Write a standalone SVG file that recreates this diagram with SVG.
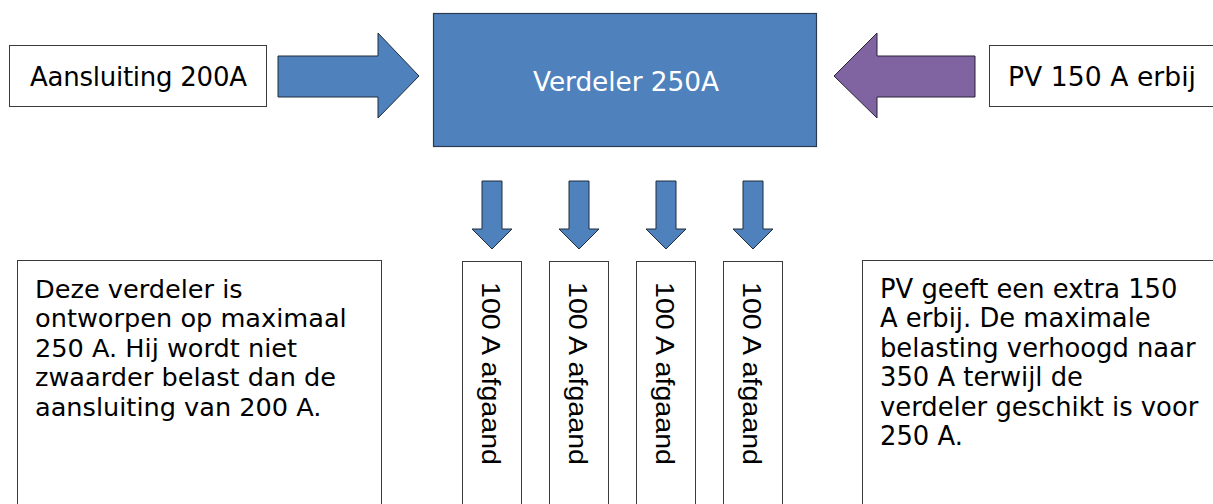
<svg xmlns="http://www.w3.org/2000/svg" width="1213" height="504" viewBox="0 0 1213 504">
<style>
.box{fill:#fff;stroke:#3a3a3a;stroke-width:1}
.hub{fill:#4F81BD;stroke:#2a3b52;stroke-width:1.2}
.arr{fill:#4F81BD;stroke:#1f2d3d;stroke-width:1}
.arrp{fill:#8064A2;stroke:#2a2238;stroke-width:1}
.t{font-family:"DejaVu Sans","Open Sans",sans-serif;fill:#000}
.tw{font-family:"DejaVu Sans","Open Sans",sans-serif;fill:#fff}
.v{font-family:"Liberation Sans",Arial,sans-serif;fill:#000;font-size:26px}
</style>
<rect width="1213" height="504" fill="#fff"/>
<g id="connectors">
<polygon class="arr" points="278,56 378,56 378,33 419,76 378,118 378,97 278,97"/>
<polygon class="arrp" points="975,56 877,56 877,33 834,76 877,118 877,97 975,97"/>
<polygon class="arr" points="482,181 502,181 502,229 512,229 492,249 472,229 482,229"/>
<polygon class="arr" points="569,181 589,181 589,229 599,229 579,249 559,229 569,229"/>
<polygon class="arr" points="656,181 676,181 676,229 686,229 666,249 646,229 656,229"/>
<polygon class="arr" points="743,181 763,181 763,229 773,229 753,249 733,229 743,229"/>
</g>
<g id="aansluiting">
<rect class="box" x="9.5" y="45.5" width="257" height="61"/>
<text class="t" x="30" y="86" font-size="26" textLength="217" lengthAdjust="spacing">Aansluiting 200A</text>
</g>
<g id="verdeler">
<rect class="hub" x="433.5" y="13.5" width="383" height="133"/>
<text class="tw" x="533" y="91" font-size="26.4" textLength="186" lengthAdjust="spacing">Verdeler 250A</text>
</g>
<g id="pv">
<rect class="box" x="989.5" y="45.5" width="240" height="61"/>
<text class="t" x="1008" y="86" font-size="26.6" textLength="188" lengthAdjust="spacing">PV 150 A erbij</text>
</g>
<g id="out1">
<rect class="box" x="462.5" y="261.5" width="59" height="260"/>
<text class="v" transform="translate(482,282) rotate(90)" textLength="183" lengthAdjust="spacingAndGlyphs">100 A afgaand</text>
</g>
<g id="out2">
<rect class="box" x="549.5" y="261.5" width="59" height="260"/>
<text class="v" transform="translate(569,282) rotate(90)" textLength="183" lengthAdjust="spacingAndGlyphs">100 A afgaand</text>
</g>
<g id="out3">
<rect class="box" x="636.5" y="261.5" width="59" height="260"/>
<text class="v" transform="translate(656,282) rotate(90)" textLength="183" lengthAdjust="spacingAndGlyphs">100 A afgaand</text>
</g>
<g id="out4">
<rect class="box" x="723.5" y="261.5" width="59" height="260"/>
<text class="v" transform="translate(743,282) rotate(90)" textLength="183" lengthAdjust="spacingAndGlyphs">100 A afgaand</text>
</g>
<g id="note-left">
<rect class="box" x="17.5" y="260.5" width="364" height="260"/>
<text class="t" font-size="25.6">
<tspan x="35" y="297.5">Deze verdeler is</tspan>
<tspan x="35" y="327">ontworpen op maximaal</tspan>
<tspan x="35" y="356.5">250 A. Hij wordt niet</tspan>
<tspan x="35" y="386">zwaarder belast dan de</tspan>
<tspan x="35" y="415.5">aansluiting van 200 A.</tspan>
</text>
</g>
<g id="note-right">
<rect class="box" x="862.5" y="260.5" width="370" height="260"/>
<text class="t" font-size="25.8">
<tspan x="880" y="297.5">PV geeft een extra 150</tspan>
<tspan x="880" y="327">A erbij. De maximale</tspan>
<tspan x="880" y="356.5">belasting verhoogd naar</tspan>
<tspan x="880" y="386">350 A terwijl de</tspan>
<tspan x="880" y="415.5">verdeler geschikt is voor</tspan>
<tspan x="880" y="445">250 A.</tspan>
</text>
</g>
</svg>
